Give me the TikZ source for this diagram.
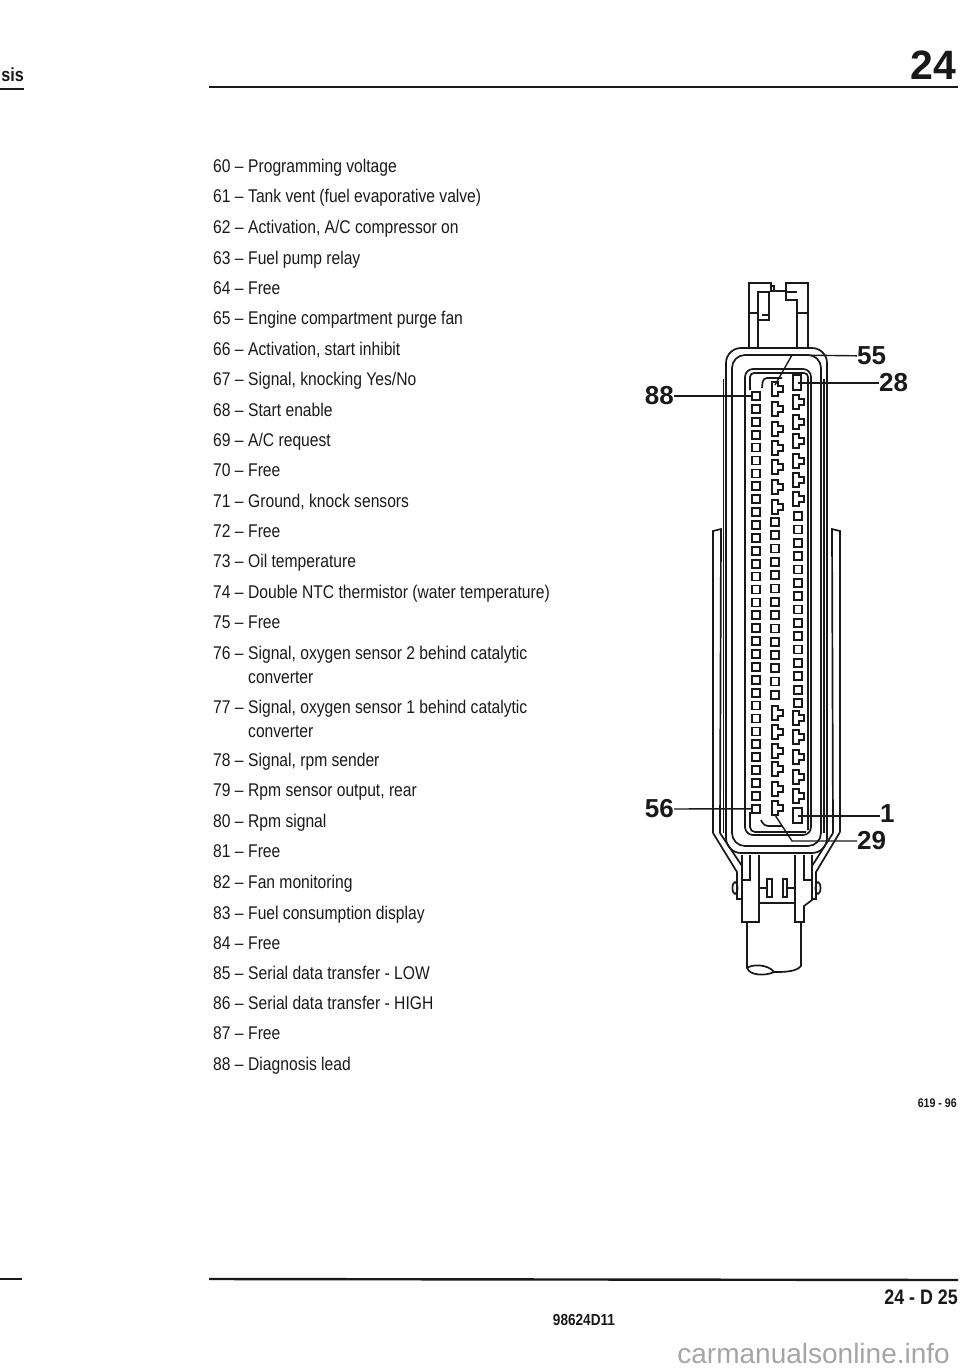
\documentclass[tikz,border=0pt]{standalone}
\usepackage{fontspec}
\setmainfont[FakeStretch=0.85]{Liberation Sans}
\newfontfamily\widefont{Liberation Sans}
\definecolor{ink}{RGB}{25,25,25}
\definecolor{mark}{RGB}{165,165,165}
\tikzset{
    item/.style={anchor=base west,inner sep=0pt,font=\fontsize{18.4}{18.4}\selectfont,text=ink},
    callout/.style={inner sep=0pt,font=\widefont\fontsize{26}{26}\selectfont\bfseries,text=ink},
    pagemark/.style={inner sep=0pt,text=ink},
    wall/.style={line width=1.7pt,ink},
    rule/.style={line width=2.4pt,ink},
    leader/.style={line width=1.4pt,ink},
    pinbox/.style={draw=ink,line width=1.7pt,minimum size=8pt,inner sep=0pt},
    tabpin/.pic={\draw[wall] (-3,-7) -- (3,-7) -- (3,-3) -- (8,-3) -- (8,3) -- (3,3) -- (3,7) -- (-3,7) -- cycle;}
}
\begin{document}
\begin{tikzpicture}[x=1pt,y=-1pt]
    \useasboundingbox (0,0) rectangle (960,1371);

    \node[pagemark,anchor=east,font=\fontsize{19}{19}\selectfont\bfseries] (headleft) at (24,75) {sis};
    \node[pagemark,anchor=east,font=\widefont\fontsize{41}{41}\selectfont\bfseries] (headnum) at (956,65) {24};
    \draw[rule,line width=1.4pt] (0,89) -- (24,89);
    \draw[rule] (209,87) -- (958,87);

    \foreach \y/\n/\t in {166/60/Programming voltage,196/61/Tank vent (fuel evaporative valve),
        227/62/{Activation, A/C compressor on},258/63/Fuel pump relay,288/64/Free,
        318/65/Engine compartment purge fan,349/66/{Activation, start inhibit},
        379/67/{Signal, knocking Yes/No},410/68/Start enable,440/69/{A/C request},470/70/Free,
        501/71/{Ground, knock sensors},531/72/Free,561/73/Oil temperature,
        592/74/Double NTC thermistor (water temperature),622/75/Free,
        653/76/{Signal, oxygen sensor 2 behind catalytic},707/77/{Signal, oxygen sensor 1 behind catalytic},
        760/78/{Signal, rpm sender},790/79/{Rpm sensor output, rear},821/80/Rpm signal,851/81/Free,
        882/82/Fan monitoring,913/83/Fuel consumption display,943/84/Free,
        973/85/Serial data transfer - LOW,1003/86/Serial data transfer - HIGH,1033/87/Free,1064/88/Diagnosis lead}
    {
        \node[item] (num\n) at (213,\y+6) {\n\ --};
        \node[item] (txt\n) at (248,\y+6) {\t};
    }
    \node[item] (cont76) at (248,683) {converter};
    \node[item] (cont77) at (248,737) {converter};

    % clip at the top
    \draw[wall] (749,348) -- (749,283) -- (771,283) -- (771,291) -- (785,291);
    \draw[wall] (774,286) rectangle (771,291);
    \draw[wall] (786,291) -- (786,283) -- (808,283) -- (808,348);
    \draw[wall] (758,348) -- (758,292) -- (769,292) -- (769,320) -- (758,320);
    \draw[wall] (786,291) -- (786,300) -- (797,300) -- (797,348);
    \draw[wall] (786,292) -- (797,292);
    \draw[wall,line width=2.4pt] (749,313) -- (758,313);
    \draw[wall,line width=2.4pt] (797,313) -- (808,313);
    \draw[wall] (762,315) -- (769,315);

    % body walls
    \draw[wall,rounded corners=15pt] (726,348) rectangle (827,853);
    \draw[wall,rounded corners=13pt] (732,355) rectangle (821,846);
    \draw[wall,rounded corners=8pt] (745,369) rectangle (811,835);
    \draw[wall] (723.5,379) -- (723.5,833);
    \draw[wall] (824,379) -- (824,833);
    \draw[wall,rounded corners=4pt] (750,390) -- (750,373) -- (808,373) -- (808,830);
    \draw[wall,rounded corners=4pt] (762,388) -- (763,378) -- (782,378);
    \draw[wall,rounded corners=5pt] (750,812) -- (750,832) -- (806,832);
    \draw[wall,rounded corners=4pt] (761,820) -- (764,826) -- (782,826);

    % side latches
    \draw[wall] (713,833) -- (713,531) -- (721,529) -- (720,833);
    \draw[wall] (840,832) -- (840,531) -- (832,529) -- (833,833);
    \draw[wall] (713,833) -- (737,872) -- (737,899) -- (742,899);
    \draw[wall] (720,833) -- (742,866);
    \draw[wall] (840,832) -- (816,872) -- (816,899) -- (812,899);
    \draw[wall] (833,833) -- (812,866);
    \draw[wall] (735,888) ellipse (2.5 and 6);
    \draw[wall] (818,888) ellipse (2.5 and 6);

    % pin rows
    \foreach \i in {0,...,32} {
        \node[pinbox] (pinl\i) at (756,{396+12.9*\i}) {};
    }
    \foreach \i in {0,...,13} {
        \node[pinbox] (pinm\i) at (775,{522+13.3*\i}) {};
    }
    \foreach \i in {0,...,14} {
        \node[pinbox] (pinr\i) at (798,{516+13.36*\i}) {};
    }
    \foreach \y in {389,409,429,448,467,487,507,713,732,751,769,789,808} {
        \pic at (775,\y) {tabpin};
    }
    \foreach \y in {402,422,441,461,480,499,718,737,757,777,796} {
        \pic at (796,\y) {tabpin};
    }
    \draw[wall] (793,375) rectangle (801,390);
    \draw[wall] (793,808) rectangle (802,823);

    % plug and cable
    \draw[wall] (742,855) -- (742,922) -- (759,922) -- (759,855);
    \draw[wall] (750,855) -- (750,880) -- (742,880);
    \draw[wall] (795,855) -- (795,922) -- (804,922) -- (804,906) -- (812,900) -- (812,855);
    \draw[wall] (804,855) -- (804,880) -- (812,880);
    \draw[wall] (759,903) -- (795,903);
    \draw[wall] (767,879) rectangle (772,897);
    \draw[wall] (783,879) rectangle (787,897);
    \draw[wall] (759,888) -- (767,888);
    \draw[wall] (787,888) -- (795,888);
    \draw[wall] (747,922) -- (747,968) .. controls (750,976) and (766,976) .. (774,972) .. controls (768,964) and (752,964) .. (747,968);
    \draw[wall] (801,922) -- (801,966) .. controls (796,972) and (784,972) .. (774,972);

    % leaders with their numbers
    \node[callout,anchor=east] (lab88) at (674,396) {88};
    \node[callout,anchor=west] (lab55) at (857,356) {55};
    \node[callout,anchor=west] (lab28) at (879,383) {28};
    \node[callout,anchor=east] (lab56) at (674,809) {56};
    \node[callout,anchor=west] (lab1) at (880,814) {1};
    \node[callout,anchor=west] (lab29) at (857,841) {29};
    \coordinate (pin55) at (775,385);
    \coordinate (pin28) at (798,383);
    \coordinate (pin29) at (775,815);
    \coordinate (pin1) at (798,816);
    \coordinate (bend55) at (792,355);
    \coordinate (bend29) at (792,841);
    \draw[leader] (lab88) -- (pinl0);
    \draw[leader] (lab56) -- (pinl32);
    \draw[leader] (lab55) -- (bend55) -- (pin55);
    \draw[leader] (lab28) -- (pin28);
    \draw[leader] (lab1.west |- pin1) -- (pin1);
    \draw[leader] (lab29) -- (bend29) -- (pin29);

    \node[pagemark,anchor=east,font=\fontsize{12.5}{12.5}\selectfont\bfseries] (figno) at (957,1103) {619 - 96};
    \draw[rule,line width=1.4pt] (0,1279) -- (22,1279);
    \draw[rule] (209,1279) -- (958,1280);
    \node[pagemark,anchor=east,font=\fontsize{21}{21}\selectfont\bfseries] (pageno) at (958,1297) {24 - D 25};
    \node[pagemark,font=\fontsize{16}{16}\selectfont\bfseries] (partno) at (584,1320) {98624D11};
    \node[inner sep=0pt,anchor=east,text=mark,font=\widefont\fontsize{28}{28}\selectfont] (site) at (950,1353) {carmanualsonline.info};
\end{tikzpicture}
\end{document}
